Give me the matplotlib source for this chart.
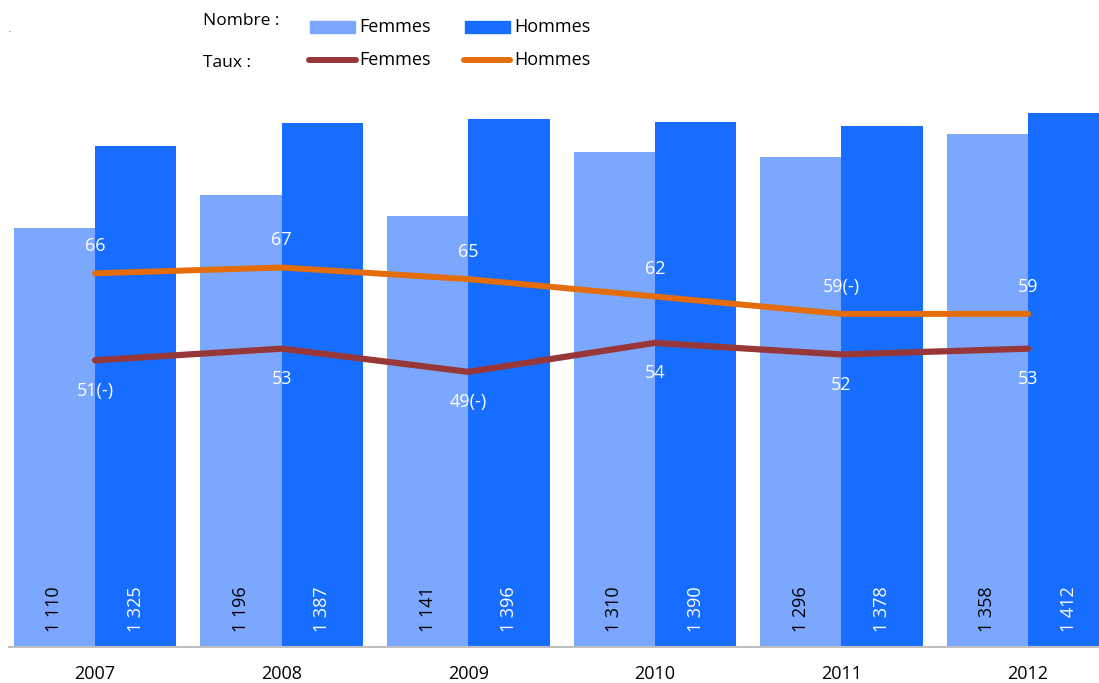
import matplotlib.pyplot as plt
from matplotlib.patches import Rectangle
from matplotlib.lines import Line2D

plt.rcParams['font.family'] = ['Open Sans', 'DejaVu Sans']

annees = ['2007', '2008', '2009', '2010', '2011', '2012']
nombre_femmes = [1110, 1196, 1141, 1310, 1296, 1358]
nombre_hommes = [1325, 1387, 1396, 1390, 1378, 1412]
taux_femmes = [51, 53, 49, 54, 52, 53]
taux_hommes = [66, 67, 65, 62, 59, 59]
etiq_taux_femmes = ['51(-)', '53', '49(-)', '54', '52', '53']
etiq_taux_hommes = ['66', '67', '65', '62', '59(-)', '59']

c_femmes = '#7CA7FF'
c_hommes = '#176DFF'
c_taux_f = '#973737'
c_taux_h = '#E46C0A'


def fmt(n):
    return f'{n:,}'.replace(',', ' ')


W, H = 1099, 683
fig = plt.figure(figsize=(W / 100, H / 100), dpi=100)
ax = fig.add_axes([9 / W, 36 / H, (W - 9) / W, 557 / H])

x = list(range(len(annees)))
larg = 0.436
ax.bar([i - larg / 2 for i in x], nombre_femmes, width=larg, color=c_femmes, zorder=2)
ax.bar([i + larg / 2 for i in x], nombre_hommes, width=larg, color=c_hommes, zorder=2)

for i in x:
    ax.annotate(fmt(nombre_femmes[i]), (i - larg / 2, 0), xytext=(0, 10.5),
                textcoords='offset points', rotation=90, ha='center', va='bottom',
                fontsize=13, color='black', zorder=5)
    ax.annotate(fmt(nombre_hommes[i]), (i + larg / 2, 0), xytext=(0, 10.5),
                textcoords='offset points', rotation=90, ha='center', va='bottom',
                fontsize=13, color='white', zorder=5)

ax.set_xlim(-0.461, 5.380)
ax.set_ylim(0, 1474)
ax.set_xticks(x)
ax.set_xticklabels(annees, fontsize=13)
ax.tick_params(axis='x', length=0, pad=13)
ax.set_yticks([])
for s in ['top', 'right', 'left']:
    ax.spines[s].set_visible(False)
ax.spines['bottom'].set_color('#BFBFBF')
ax.spines['bottom'].set_linewidth(1.5)
ax.spines['bottom'].set_zorder(3)

# taux sur un second axe
ax2 = ax.twinx()
ax2.set_ylim(1.54, 97.62)
ax2.axis('off')
ax2.plot(x, taux_hommes, color=c_taux_h, lw=4.3, solid_capstyle='round', zorder=3)
ax2.plot(x, taux_femmes, color=c_taux_f, lw=4.5, solid_capstyle='round', zorder=3)
for i in x:
    ax2.annotate(etiq_taux_hommes[i], (i, taux_hommes[i]), xytext=(0, 19.5),
                 textcoords='offset points', ha='center', va='center',
                 fontsize=13, color='white')
    ax2.annotate(etiq_taux_femmes[i], (i, taux_femmes[i]), xytext=(0, -22),
                 textcoords='offset points', ha='center', va='center',
                 fontsize=13, color='white')


# légende dessinée à la main en haut
def fx(px):
    return px / W


def fy(py):
    return 1 - py / H


fig.text(fx(203), fy(21), 'Nombre :', fontsize=12.5, va='center', ha='left')
fig.text(fx(203), fy(63), 'Taux :', fontsize=12.5, va='center', ha='left')
fig.add_artist(Rectangle((fx(310), fy(33)), fx(45), 12 / H, color=c_femmes,
                         transform=fig.transFigure))
fig.add_artist(Rectangle((fx(465), fy(33)), fx(45), 12 / H, color=c_hommes,
                         transform=fig.transFigure))
fig.text(fx(359), fy(27), 'Femmes', fontsize=13, va='center', ha='left')
fig.text(fx(514), fy(27), 'Hommes', fontsize=13, va='center', ha='left')
fig.add_artist(Line2D([fx(309), fx(356)], [fy(60), fy(60)], color=c_taux_f, lw=4.3,
                      solid_capstyle='round', transform=fig.transFigure))
fig.add_artist(Line2D([fx(464), fx(510)], [fy(60), fy(60)], color=c_taux_h, lw=4.3,
                      solid_capstyle='round', transform=fig.transFigure))
fig.text(fx(359), fy(60), 'Femmes', fontsize=13, va='center', ha='left')
fig.text(fx(514), fy(60), 'Hommes', fontsize=13, va='center', ha='left')
fig.text(fx(8), fy(30), '.', fontsize=5, va='center', ha='left')

fig.savefig('out.png', dpi=100)
